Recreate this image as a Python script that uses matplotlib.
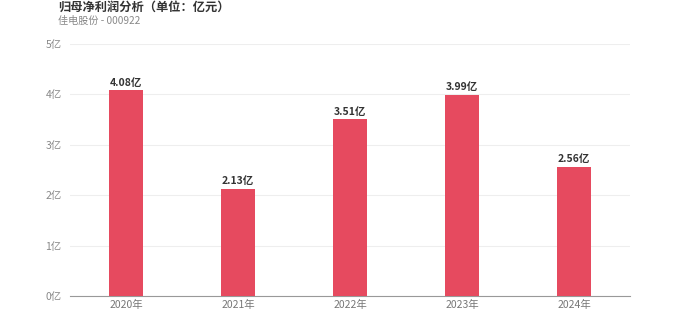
import matplotlib
matplotlib.use("Agg")
import matplotlib.pyplot as plt

plt.rcParams['font.family'] = ['Noto Sans CJK SC', 'DejaVu Sans']

# data
years = ['2020年', '2021年', '2022年', '2023年', '2024年']
profit = [4.08, 2.13, 3.51, 3.99, 2.56]
yticks = [0, 1, 2, 3, 4, 5]

fig = plt.figure(figsize=(7, 3.36), dpi=100)
ax = fig.add_axes([0.1, 0.119, 0.8, 0.75])

x = range(len(years))
ax.bar(x, profit, width=0.3, color='#e64a5f', zorder=3)

for i, v in enumerate(profit):
    ax.text(i, v + 0.05, f'{v:.2f}亿', ha='center', va='bottom',
            fontsize=7.5, fontweight='bold', color='#333333')

ax.set_xlim(-0.5, len(years) - 0.5)
ax.set_ylim(0, 5)
ax.set_xticks(list(x))
ax.set_xticklabels(years, fontsize=7.5, color='#777777')
ax.set_yticks(yticks)
ax.set_yticklabels([f'{t}亿' for t in yticks], fontsize=7.5, color='#888888')
ax.tick_params(axis='both', length=0, pad=3)
ax.tick_params(axis='y', pad=6)

ax.grid(axis='y', color='#eeeeee', linewidth=0.8, zorder=0)
for s in ['top', 'right', 'left']:
    ax.spines[s].set_visible(False)
ax.spines['bottom'].set_color('#999999')
ax.spines['bottom'].set_linewidth(0.8)

fig.text(0.083, 0.998, '归母净利润分析（单位：亿元）', fontsize=8.8, fontweight='bold',
         color='#333333', va='top')
fig.text(0.083, 0.952, '佳电股份 - 000922', fontsize=7.3, color='#888888', va='top')

fig.savefig('out.png', dpi=100)
